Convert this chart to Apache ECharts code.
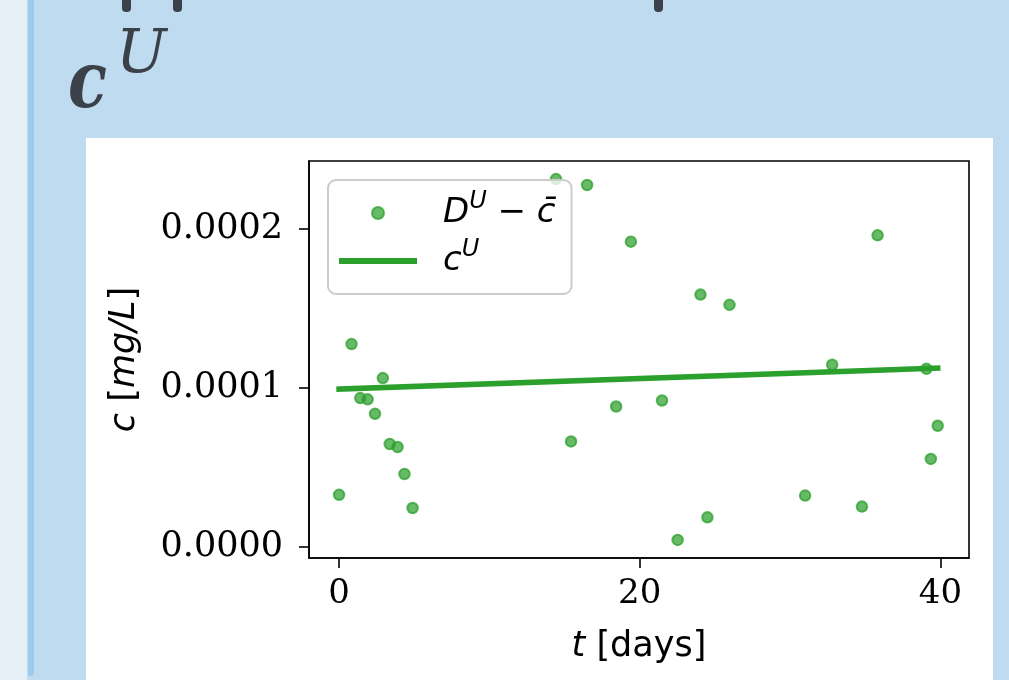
<!DOCTYPE html>
<html>
<head>
<meta charset="utf-8">
<script src="https://cdn.jsdelivr.net/npm/echarts@6/dist/echarts.min.js"></script>
<style>html,body{margin:0;padding:0;background:#bfdbf0;}#chart{width:1009px;height:680px;}</style>
</head>
<body>
<div id="chart"></div>
<script>
// measured residuals D^U - c̄ (mg/L) vs time (days)
var tDays = [0, 0.83, 1.41, 1.9, 2.39, 2.91, 3.37, 3.89, 4.35, 4.89, 14.43, 15.43, 16.5, 18.43, 19.41, 21.48, 22.52, 24.04, 24.5, 25.97, 31.0, 32.8, 34.78, 35.82, 39.07, 39.36, 39.82];
var residC = [0.0000326, 0.0001275, 0.0000935, 0.0000927, 0.0000836, 0.0001061, 0.0000646, 0.0000627, 0.0000457, 0.0000243, 0.0002314, 0.0000662, 0.0002277, 0.0000882, 0.000192, 0.000092, 0.0000042, 0.0001587, 0.0000184, 0.0001522, 0.0000321, 0.0001145, 0.0000252, 0.000196, 0.0001119, 0.0000552, 0.0000761];
// fitted c^U line
var fitT = [0, 39.82];
var fitC = [0.0000992, 0.0001124];
// ticks
var xTicks = [0, 20, 40];
var yTicks = [0, 0.0001, 0.0002];

var scatterData = tDays.map(function (t, i) { return [t, residC[i]]; });
var lineData = fitT.map(function (t, i) { return [t, fitC[i]]; });

var chart = echarts.init(document.getElementById('chart'), null, {renderer: 'canvas'});
var green = '#2ca02c';
var option = {
  backgroundColor: '#bfdbf0',
  animation: false,
  graphic: [
    {type: 'rect', z: -10, shape: {x: 0, y: 0, width: 27, height: 680}, style: {fill: '#e6eef6'}},
    {type: 'rect', z: -9, shape: {x: 28, y: 0, width: 6, height: 676, r: [0, 0, 3, 3]}, style: {fill: '#9fcbeb'}},
    {type: 'rect', z: -9, shape: {x: 86, y: 138, width: 907, height: 542}, style: {fill: '#ffffff'}},
    {type: 'rect', z: -9, shape: {x: 122, y: -4, width: 9, height: 16, r: 4}, style: {fill: '#3b4049'}},
    {type: 'rect', z: -9, shape: {x: 173, y: -4, width: 9, height: 16, r: 4}, style: {fill: '#3b4049'}},
    {type: 'rect', z: -9, shape: {x: 654, y: -4, width: 9, height: 16, r: 4}, style: {fill: '#3b4049'}},
    {type: 'text', z: -8, x: 68, y: 48, scaleX: 0.82, style: {text: 'c', font: 'italic bold 78px "DejaVu Serif"', fill: '#3b4049', verticalAlign: 'top'}},
    {type: 'text', z: -8, x: 116, y: 26, style: {text: 'U', font: 'italic 60px "DejaVu Serif"', fill: '#3b4049', verticalAlign: 'top'}}
  ],
  grid: {left: 309, top: 161, right: 40, bottom: 122, show: true, borderColor: '#000', borderWidth: 1.6, backgroundColor: 'transparent'},
  legend: {
    orient: 'vertical', left: 328, top: 180,
    padding: [10, 16, 16, 11],
    itemWidth: 78, itemHeight: 12, itemGap: 8,
    backgroundColor: 'rgba(255,255,255,0.8)', borderColor: '#cccccc', borderWidth: 2, borderRadius: 8,
    data: [
      {name: 'resid'},
      {name: 'fit', icon: 'path://M0,0h78v6h-78z', itemStyle: {color: green}}
    ],
    formatter: function (name) {
      return name === 'resid' ? '{i0|D}{s|U}{m| − }{i|c\u0304}' : '{i0|c}{s|U}';
    },
    textStyle: {
      color: '#000', fontFamily: 'DejaVu Sans', fontSize: 34,
      rich: {
        i0: {fontFamily: 'DejaVu Sans', fontStyle: 'italic', fontSize: 34, lineHeight: 44, padding: [0, 0, 0, 21], color: '#000'},
        i: {fontFamily: 'DejaVu Sans', fontStyle: 'italic', fontSize: 34, lineHeight: 44, color: '#000'},
        s: {fontFamily: 'DejaVu Sans', fontStyle: 'italic', fontSize: 24, padding: [0, 0, 22, 0], color: '#000'},
        m: {fontFamily: 'DejaVu Sans', fontSize: 34, lineHeight: 44, color: '#000'}
      }
    }
  },
  xAxis: {
    type: 'value', min: -2, max: 41.9,
    name: '{i|t} [days]', nameLocation: 'middle', nameGap: 71,
    nameTextStyle: {fontFamily: 'DejaVu Sans', fontSize: 35, color: '#000',
      rich: {i: {fontFamily: 'DejaVu Sans', fontStyle: 'italic', fontSize: 35, color: '#000'}}},
    axisLine: {show: true, onZero: false, lineStyle: {color: '#000', width: 1.6}},
    axisTick: {show: true, length: 10, lineStyle: {color: '#000', width: 1.6}, customValues: xTicks},
    axisLabel: {show: true, margin: 19, fontFamily: 'DejaVu Serif', fontSize: 34, color: '#000', customValues: xTicks},
    splitLine: {show: false}
  },
  yAxis: {
    type: 'value', min: -0.0000072, max: 0.0002428,
    name: '{i|c} [{i|mg/L}]', nameLocation: 'middle', nameGap: 167,
    nameTextStyle: {fontFamily: 'DejaVu Sans', fontSize: 35, color: '#000',
      rich: {i: {fontFamily: 'DejaVu Sans', fontStyle: 'italic', fontSize: 35, color: '#000'}}},
    axisLine: {show: true, onZero: false, lineStyle: {color: '#000', width: 1.6}},
    axisTick: {show: true, length: 10, lineStyle: {color: '#000', width: 1.6}, customValues: yTicks},
    axisLabel: {show: true, margin: 26, fontFamily: 'DejaVu Serif', fontSize: 35, color: '#000', customValues: yTicks,
      formatter: function (v) { return v.toFixed(4); }},
    splitLine: {show: false}
  },
  series: [
    {
      name: 'resid', type: 'scatter', data: scatterData, symbol: 'circle', symbolSize: 10.5, z: 3,
      itemStyle: {color: 'rgba(44,160,44,0.72)', borderColor: 'rgba(44,160,44,0.75)', borderWidth: 2, opacity: 1}
    },
    {
      name: 'fit', type: 'line', data: lineData, symbol: 'none', showSymbol: false, z: 2,
      lineStyle: {color: green, width: 5.5, cap: 'square'},
      itemStyle: {color: green}
    }
  ]
};
chart.setOption(option);
</script>
</body>
</html>
